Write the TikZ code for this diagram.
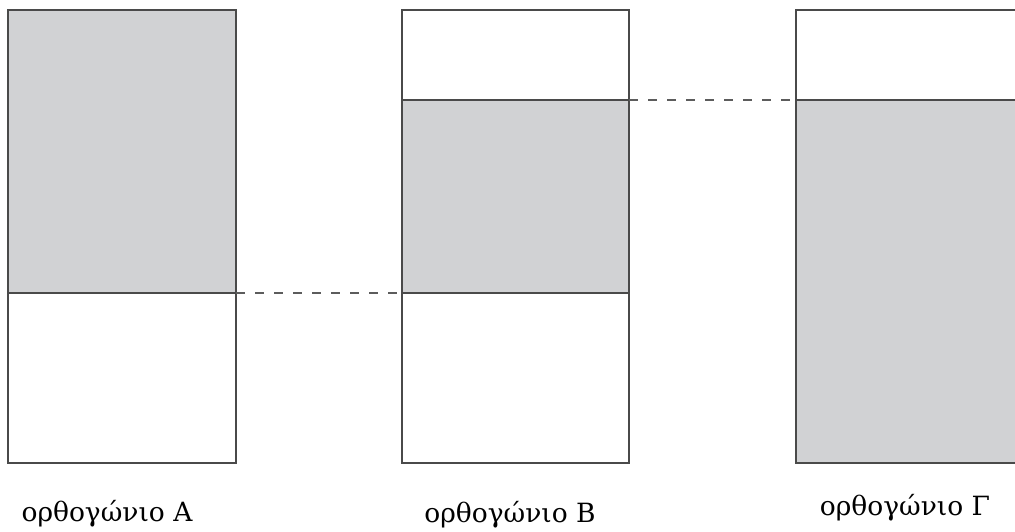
\documentclass[tikz,border=0pt]{standalone}
\usepackage{fontspec}
\setmainfont{DejaVu Serif}
\definecolor{boxgray}{HTML}{D1D2D4}
\definecolor{edge}{HTML}{4A4A4A}
\begin{document}
\begin{tikzpicture}[x=1pt,y=-1pt,
  frame/.style={draw=edge,line width=1.6pt},
  shade/.style={fill=boxgray},
  level/.style={draw=edge!90,line width=1.4pt,dash pattern=on 9pt off 10pt},
  caption/.style={font=\fontsize{26.5}{30}\selectfont,text=black,inner sep=0pt,anchor=base}]
\useasboundingbox (0,0) rectangle (1015,531);
% rectangle A
\fill[shade] (8,10) rectangle (236,293);
\draw[frame] (8,10) rectangle (236,463);
\draw[frame] (8,293) -- (236,293);
% rectangle B
\fill[shade] (402,100) rectangle (629,293);
\draw[frame] (402,10) rectangle (629,463);
\draw[frame] (402,100) -- (629,100);
\draw[frame] (402,293) -- (629,293);
% rectangle Gamma (cut off at right)
\fill[shade] (796,100) rectangle (1020,463);
\draw[frame] (1020,10) -- (796,10) -- (796,463) -- (1020,463);
\draw[frame] (796,100) -- (1020,100);
% level coordinates
\coordinate (a1) at (236,293);
\coordinate (b1) at (402,293);
\coordinate (b2) at (629,100);
\coordinate (c2) at (796,100);
\draw[level] (a1) -- (b1);
\draw[level] (b2) -- (c2);
% captions
\node[caption] (la) at (107,521) {ορθογώνιο Α};
\node[caption] (lb) at (510,522) {ορθογώνιο Β};
\node[caption] (lc) at (905,515) {ορθογώνιο Γ};
\end{tikzpicture}
\end{document}
